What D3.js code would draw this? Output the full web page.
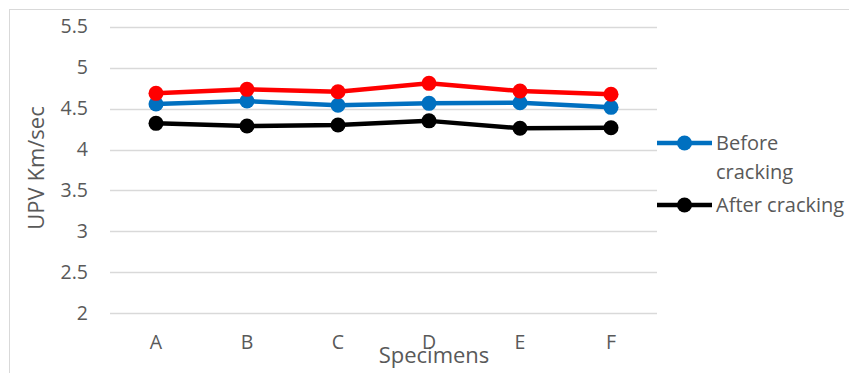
<!DOCTYPE html>
<html><head><meta charset="utf-8">
<script src="https://cdn.jsdelivr.net/npm/d3@7"></script>
<style>
html,body{margin:0;padding:0;background:#fff;}
text{font-family:"Open Sans",Calibri,sans-serif;fill:#595959;}
</style></head>
<body>
<svg id="chart" width="849" height="373"></svg>
<script>
const categories = ["A","B","C","D","E","F"];
const redSeries = [4.686, 4.735, 4.706, 4.808, 4.714, 4.675];
const beforeCracking = [4.556, 4.592, 4.540, 4.564, 4.572, 4.515];
const afterCracking = [4.32, 4.287, 4.30, 4.35, 4.26, 4.266];
const yTicks = [2, 2.5, 3, 3.5, 4, 4.5, 5, 5.5];
const yTickLabels = ["2","2.5","3","3.5","4","4.5","5","5.5"];

const series = [
  {name:"Before cracking", values: beforeCracking, color:"#0070C0", legend:["Before","cracking"]},
  {name:"After cracking", values: afterCracking, color:"#000000", legend:["After cracking"]},
  {name:"", values: redSeries, color:"#FF0000", legend:null}
];

const svg = d3.select("#chart");
svg.append("rect").attr("x",9.5).attr("y",9.5).attr("width",900).attr("height",400)
  .attr("fill","none").attr("stroke","#d9d9d9").attr("stroke-width",1);

const x = d3.scaleBand().domain(categories).range([110.5, 656.5]);
const y = d3.scaleLinear().domain([2, 5.5]).range([313.3, 26.7]);

svg.append("g").selectAll("line").data(yTicks).join("line")
  .attr("x1",110).attr("x2",657)
  .attr("y1",d=>Math.round(y(d))+0.5).attr("y2",d=>Math.round(y(d))+0.5)
  .attr("stroke","#d9d9d9").attr("stroke-width",1.3);

const yAxis = d3.axisLeft(y).tickValues(yTicks).tickFormat((d,i)=>yTickLabels[i]).tickSize(0).tickPadding(0);
const gy = svg.append("g").attr("transform","translate(88,0)").call(yAxis);
gy.select(".domain").remove();
gy.selectAll("text").style("font-family","'Open Sans',sans-serif").style("font-size","19.5px").attr("fill","#595959");

const xAxis = d3.axisBottom(x).tickSize(0).tickPadding(0);
const gx = svg.append("g").attr("transform","translate(0,335)").call(xAxis);
gx.select(".domain").remove();
gx.selectAll("text").style("font-family","'Open Sans',sans-serif").style("font-size","19.5px").attr("fill","#595959");

svg.append("text").attr("transform","translate(44,168) rotate(-90)")
  .attr("text-anchor","middle").style("font-size","22px").text("UPV Km/sec");
svg.append("text").attr("x",434).attr("y",363)
  .attr("text-anchor","middle").style("font-size","22px").text("Specimens");

const line = d3.line().x((d,i)=>x(categories[i])+x.bandwidth()/2).y(d=>y(d));
const gS = svg.append("g");
series.forEach(s=>{
  const g = gS.append("g");
  g.append("path").datum(s.values).attr("d",line).attr("fill","none")
    .attr("stroke",s.color).attr("stroke-width",4.5).attr("stroke-linejoin","round");
  g.selectAll("circle").data(s.values).join("circle")
    .attr("cx",(d,i)=>x(categories[i])+x.bandwidth()/2).attr("cy",d=>y(d))
    .attr("r",7.5).attr("fill",s.color);
});

const legendYs = [143, 205];
series.filter(s=>s.legend).forEach((s,i)=>{
  const ly = legendYs[i];
  svg.append("line").attr("x1",657).attr("x2",712).attr("y1",ly).attr("y2",ly)
    .attr("stroke",s.color).attr("stroke-width",4.5);
  svg.append("circle").attr("cx",684.5).attr("cy",ly).attr("r",7.5).attr("fill",s.color);
  s.legend.forEach((t,j)=>{
    svg.append("text").attr("x",716).attr("y",ly+7+j*29).style("font-size","20px").text(t);
  });
});
</script>
</body></html>
